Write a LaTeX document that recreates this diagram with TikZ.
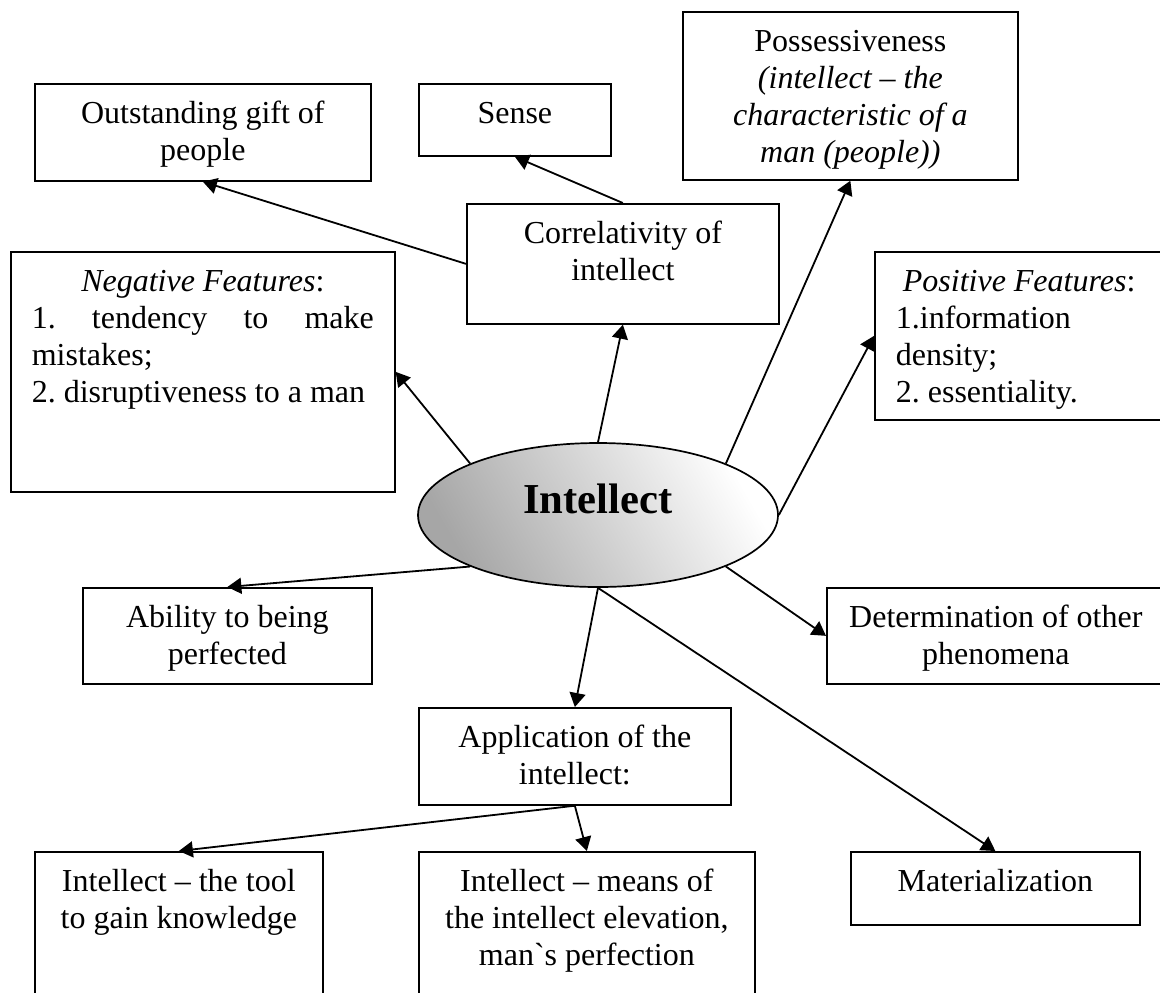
\documentclass[tikz,border=0pt]{standalone}
\usepackage{fontspec}
\setmainfont{Liberation Serif}
\usetikzlibrary{shapes.geometric,arrows.meta}
\frenchspacing
\newcommand{\boxtext}[3]{\parbox[t][#2][t]{#1}{\centering\rule{0pt}{20pt}#3}}

\begin{document}
\begin{tikzpicture}[x=0.5pt,y=-0.5pt,
  every node/.style={font=\fontsize{16}{18.5}\selectfont},
  box/.style={draw,line width=0.85pt,anchor=north west,inner xsep=10.5pt,inner ysep=0pt},
  arr/.style={-{Triangle[length=7pt,width=8pt]},line width=0.9pt}]
\useasboundingbox (0,0) rectangle (1160,992);
\clip (0,0) rectangle (1160,992);
\node [box] (outst) at (34,83) {\boxtext{147pt}{48.5pt}{Outstanding gift of\\people}};
\node [box] (sense) at (418,83) {\boxtext{75pt}{36pt}{Sense}};
\node [box] (poss) at (682,11) {\boxtext{146.5pt}{84pt}{Possessiveness\\\textit{(intellect -- the}\\\textit{characteristic of a}\\\textit{man (people))}}};
\node [box] (correl) at (466,203) {\boxtext{135pt}{60pt}{Correlativity of\\intellect}};
\node [box] (neg) at (10,251) {\parbox[t][120pt][t]{171pt}{\rule{0pt}{20pt}\makebox[\linewidth]{\textit{Negative Features}:}\\
  \makebox[\linewidth][s]{1. tendency to make}\\mistakes;\\2. disruptiveness to a man}};
\node [box] (pos) at (874,251) {\parbox[t][84pt][t]{135pt}{\raggedright\rule{0pt}{20pt}\hspace*{3.5pt}\textit{Positive Features}:\\
  1.information\\density;\\2. essentiality.}};
\node [ellipse,draw,line width=0.85pt,minimum width=180pt,minimum height=72pt,inner sep=0pt,
  top color=white,bottom color=black!35,shading angle=-60,text depth=16.5pt,
  font=\fontsize{21.33}{24}\selectfont\bfseries] (intel) at (598,515) {Intellect};
\node [box] (ability) at (82,587) {\boxtext{123.5pt}{48pt}{Ability to being\\perfected}};
\node [box] (determ) at (826,587) {\boxtext{148pt}{48pt}{Determination of other\\phenomena}};
\node [box] (appl) at (418,707) {\boxtext{135pt}{48.5pt}{Application of the\\intellect:}};
\node [box] (tool) at (34,851) {\boxtext{123pt}{85pt}{Intellect -- the tool\\to gain knowledge}};
\node [box] (means) at (418,851) {\boxtext{147pt}{85pt}{Intellect -- means of\\the intellect elevation,\\man\textasciigrave s perfection}};
\node [box] (mater) at (850,851) {\boxtext{123.5pt}{36.5pt}{Materialization}};
\draw [arr] (correl.west) -- (outst.south);
\draw [arr] (correl.north) -- (sense.south);
\draw [arr] (intel.north) -- (correl.south);
\draw [arr] (intel.north east) -- (poss.south);
\draw [arr] (intel.east) -- (pos.west);
\draw [arr] (intel.north west) -- (neg.east);
\draw [arr] (intel.south west) -- (ability.north);
\draw [arr] (intel.south east) -- (determ.west);
\draw [arr] (intel.south) -- (appl.north);
\draw [arr] (intel.south) -- (mater.north);
\draw [arr] (appl.south) -- (tool.north);
\draw [arr] (appl.south) -- (means.north);
\end{tikzpicture}
\end{document}
